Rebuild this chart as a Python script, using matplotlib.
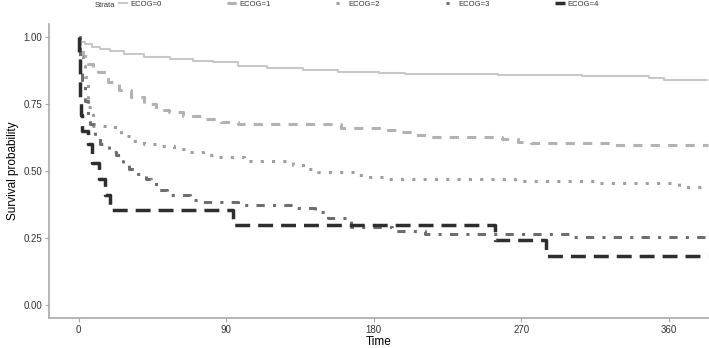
import numpy as np
import matplotlib
matplotlib.use("Agg")
from matplotlib import pyplot as plt

plt.rcParams['font.family'] = ['Liberation Sans', 'DejaVu Sans']

# Kaplan-Meier steps (time in days, survival)
t0 = [0, 1, 4, 8, 13, 19, 28, 40, 56, 70, 82, 97, 115, 137, 158, 183, 199, 256, 307, 321, 348, 357, 384]
s0 = [1.0, 0.98, 0.972, 0.963, 0.955, 0.946, 0.935, 0.925, 0.916, 0.91, 0.905, 0.893, 0.885, 0.875, 0.869, 0.865, 0.863, 0.859, 0.855, 0.853, 0.846, 0.84, 0.84]

t1 = [0, 1, 3, 6, 9, 12, 18, 24.5, 32, 40, 47, 55, 64, 76, 87, 97, 160, 185, 195, 205, 215, 258, 268, 276, 325, 334, 384]
s1 = [1.0, 0.96, 0.93, 0.9, 0.88, 0.867, 0.833, 0.8, 0.774, 0.748, 0.727, 0.718, 0.703, 0.693, 0.683, 0.674, 0.659, 0.653, 0.643, 0.634, 0.625, 0.619, 0.606, 0.603, 0.597, 0.595, 0.595]

t2 = [0, 1, 2.5, 4, 6, 9, 18, 24, 26, 32, 40, 50, 58, 66, 76, 82, 101, 128, 131, 138, 146, 170, 178, 186, 220, 266, 317, 366, 384]
s2 = [1.0, 0.93, 0.89, 0.85, 0.737, 0.667, 0.663, 0.656, 0.63, 0.611, 0.6, 0.594, 0.581, 0.569, 0.557, 0.551, 0.538, 0.532, 0.52, 0.507, 0.495, 0.483, 0.477, 0.47, 0.468, 0.462, 0.456, 0.44, 0.44]

t3 = [0, 1, 2, 4, 6, 7, 10, 13, 18.5, 22.6, 27, 30.6, 36, 41, 44, 49, 54, 68, 73, 97, 131, 144, 152, 166, 191, 211, 302, 384]
s3 = [1.0, 0.87, 0.83, 0.76, 0.704, 0.674, 0.63, 0.6, 0.57, 0.557, 0.526, 0.507, 0.489, 0.47, 0.452, 0.427, 0.409, 0.39, 0.384, 0.371, 0.359, 0.347, 0.322, 0.29, 0.275, 0.265, 0.254, 0.254]

t4 = [0, 0.5, 0.8, 1.0, 1.2, 1.5, 2, 5.5, 8, 12.5, 16, 19.5, 94.5, 254, 285, 384]
s4 = [1.0, 0.94, 0.88, 0.82, 0.76, 0.71, 0.65, 0.6, 0.53, 0.47, 0.41, 0.355, 0.297, 0.242, 0.18, 0.18]

labels = ['ECOG=0', 'ECOG=1', 'ECOG=2', 'ECOG=3', 'ECOG=4']
xticks = [0, 90, 180, 270, 360]
yticks = [0.0, 0.25, 0.5, 0.75, 1.0]

colors = ['#c8c8c8', '#b2b2b2', '#9e9e9e', '#6e6e6e', '#2e2e2e']
widths = [1.5, 2.2, 2.2, 2.2, 2.5]
styles = ['-', (0, (3, 2.7)), (0, (1, 2.7)), (0, (1, 2.7, 2.7, 2.7)), (0, (4.3, 2.3))]

fig = plt.figure(figsize=(7.09, 3.48), dpi=100)
ax = fig.add_axes([49/709, 1 - 318/348, 1 - 49/709, (318 - 23.5)/348])

curves = [(t0, s0), (t1, s1), (t2, s2), (t3, s3), (t4, s4)]
for (t, s), lab, c, lw, ls in zip(curves, labels, colors, widths, styles):
    ax.step(t, s, where='post', color=c, lw=lw, linestyle=ls, label=lab,
            dash_capstyle='butt', solid_capstyle='butt')

ax.set_xlim(-18, 384.5)
ax.set_ylim(-0.05, 1.05)
ax.set_xticks(xticks)
ax.set_yticks(yticks)
ax.set_yticklabels(['%.2f' % v for v in yticks])

for side in ['top', 'right']:
    ax.spines[side].set_visible(False)
for side in ['left', 'bottom']:
    ax.spines[side].set_color('#a9a9a9')
    ax.spines[side].set_linewidth(1.2)
ax.tick_params(colors='#a9a9a9', length=3, width=0.8, labelsize=7, labelcolor='#333333', pad=2)

ax.set_xlabel('Time', fontsize=8.5, labelpad=1)
ax.set_ylabel('Survival probability', fontsize=8.5, labelpad=3)

leg = fig.legend(loc='upper left', bbox_to_anchor=(118/709, 1 - 0.5/348), ncol=5,
                 frameon=False, fontsize=5.5, handlelength=1.3, handletextpad=0.3,
                 columnspacing=8.6, borderpad=0, borderaxespad=0)
for txt in leg.get_texts():
    txt.set_color('#333333')
fig.text(95/709, 1 - 5.5/348, 'Strata', fontsize=5.5, color='#333333', va='center')

fig.savefig('out.png', dpi=100)
